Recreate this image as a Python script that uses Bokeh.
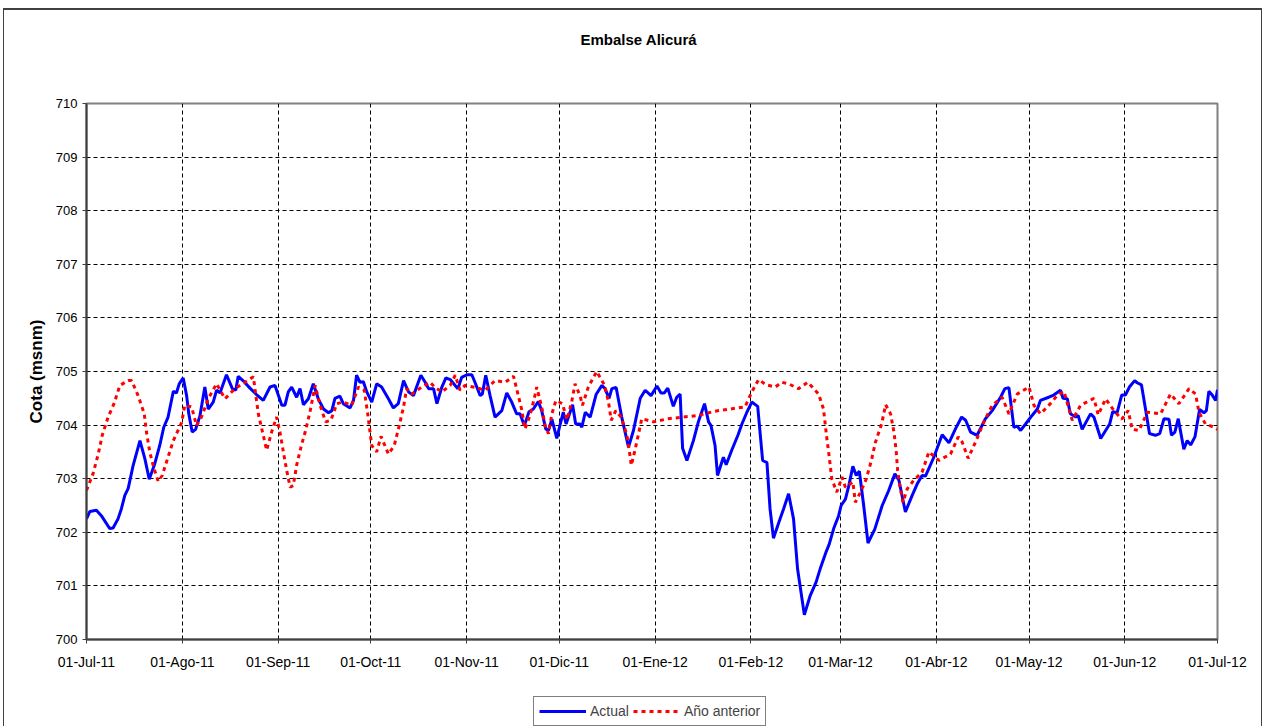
from bokeh.plotting import figure
from bokeh.models import Range1d, FixedTicker, Legend, LinearAxis
from bokeh.layouts import column
from bokeh.embed import file_html
from bokeh.resources import INLINE

# days since 01-Jul-11 for month starts
month_days = [0, 31, 62, 92, 123, 153, 184, 215, 244, 275, 305, 336, 366]
month_labels = ["01-Jul-11", "01-Ago-11", "01-Sep-11", "01-Oct-11", "01-Nov-11",
                "01-Dic-11", "01-Ene-12", "01-Feb-12", "01-Mar-12", "01-Abr-12",
                "01-May-12", "01-Jun-12", "01-Jul-12"]
y_ticks = [700, 701, 702, 703, 704, 705, 706, 707, 708, 709, 710]

# Serie "Actual" (día desde 01-Jul-11, cota msnm)
actual_day = [0, 1.1, 3.2, 4.8, 7.5, 8.6, 10.2, 11.3, 12.4, 13.5, 15.1, 17.3, 18.9, 20.3,
              22.1, 23.7, 25.0, 26.4, 28.1, 29.1, 30.0, 31.3, 32.4, 33.1, 34.2, 35.3, 36.7,
              38.3, 39.4, 41.0, 42.1, 43.2, 45.3, 47.2, 48.3, 49.1, 51.0, 52.9, 55.0, 57.2,
              59.4, 61.0, 63.2, 64.2, 65.3, 66.4, 68.0, 69.1, 70.2, 71.8, 73.4, 75.0, 76.7,
              78.3, 79.4, 80.4, 82.0, 83.1, 85.3, 86.4, 87.4, 88.5, 89.6, 90.7, 92.3, 93.9,
              95.5, 97.7, 99.3, 100.9, 102.6, 104.2, 105.8, 108.2, 109.6, 110.7, 112.3, 113.4,
              115.0, 116.3, 117.7, 119.3, 120.2, 121.4, 123.1, 124.7, 125.7, 127.4, 128.1,
              129.2, 130.6, 132.2, 134.4, 136.0, 137.6, 139.2, 140.3, 141.7, 143.2, 144.6,
              146.2, 147.3, 148.6, 149.5, 150.6, 152.2, 153.3, 154.3, 155.2, 157.3, 158.3,
              159.7, 160.3, 161.4, 163.0, 164.9, 166.8, 167.8, 169.1, 170.0, 171.4, 173.2,
              175.4, 177.0, 179.2, 180.8, 182.7, 184.6, 185.9, 187.0, 188.1, 189.9, 191.0,
              192.1, 192.9, 194.3, 196.4, 198.0, 200.0, 201.3, 202.1, 203.4, 204.2, 206.1,
              207.0, 208.8, 210.8, 212.1, 213.7, 215.3, 217.2, 218.8, 220.2, 221.2, 222.3,
              224.2, 225.6, 227.2, 228.8, 230.1, 232.3, 234.2, 236.1, 237.6, 239.3, 240.3,
              241.8, 243.4, 244.2, 245.6, 246.7, 248.0, 249.1, 250.1, 251.5, 252.9, 255.1,
              257.5, 259.6, 261.6, 262.9, 265.0, 267.2, 268.8, 270.4, 271.5, 274.2, 276.9,
              279.1, 281.2, 283.2, 284.5, 286.1, 288.2, 290.9, 293.1, 295.8, 297.2, 298.5,
              300.1, 301.2, 302.3, 303.9, 306.0, 307.7, 308.7, 311.4, 313.0, 315.2, 316.0,
              317.4, 318.4, 320.1, 320.9, 322.2, 324.9, 326.0, 328.2, 331.1, 332.1, 333.5,
              335.0, 336.2, 337.5, 339.2, 340.0, 341.4, 342.7, 344.0, 345.9, 347.3, 348.7,
              350.3, 351.1, 352.2, 353.3, 355.1, 356.2, 357.3, 358.7, 360.2, 361.6, 362.4,
              363.2, 364.3, 365.4, 366.0]
actual_cota = [702.25, 702.39, 702.41, 702.31, 702.07, 702.08, 702.25, 702.44, 702.69, 702.82,
               703.25, 703.71, 703.37, 702.99, 703.28, 703.62, 703.96, 704.15, 704.63, 704.60,
               704.77, 704.88, 704.55, 704.21, 703.87, 703.92, 704.17, 704.71, 704.30, 704.43,
               704.65, 704.60, 704.94, 704.68, 704.65, 704.91, 704.81, 704.69, 704.57, 704.46,
               704.71, 704.74, 704.37, 704.37, 704.62, 704.71, 704.52, 704.68, 704.38, 704.49,
               704.77, 704.49, 704.30, 704.23, 704.27, 704.50, 704.54, 704.40, 704.32, 704.46,
               704.93, 704.80, 704.81, 704.62, 704.43, 704.77, 704.71, 704.49, 704.32, 704.40,
               704.83, 704.62, 704.55, 704.93, 704.80, 704.68, 704.68, 704.40, 704.71, 704.88,
               704.85, 704.74, 704.68, 704.89, 704.94, 704.94, 704.80, 704.55, 704.58, 704.93,
               704.55, 704.15, 704.27, 704.60, 704.43, 704.21, 704.21, 703.99, 704.25, 704.30,
               704.44, 704.27, 703.93, 703.90, 704.11, 703.75, 704.02, 704.24, 704.02, 704.38,
               704.02, 704.02, 703.96, 704.24, 704.15, 704.57, 704.74, 704.68, 704.50, 704.68,
               704.70, 704.15, 703.59, 703.90, 704.50, 704.65, 704.55, 704.73, 704.60, 704.60,
               704.69, 704.35, 704.52, 704.58, 703.57, 703.34, 703.71, 704.06, 704.40, 704.06,
               703.99, 703.62, 703.06, 703.40, 703.26, 703.53, 703.81, 704.02, 704.24, 704.43,
               704.35, 703.34, 703.30, 702.44, 701.89, 702.21, 702.44, 702.72, 702.25, 701.32,
               700.46, 700.82, 701.07, 701.35, 701.63, 701.77, 702.07, 702.31, 702.50, 702.62,
               702.87, 703.23, 703.06, 703.14, 702.50, 701.80, 702.06, 702.50, 702.78, 703.09,
               702.97, 702.38, 702.69, 702.90, 703.06, 703.05, 703.40, 703.82, 703.67, 703.93,
               704.15, 704.09, 703.87, 703.81, 704.12, 704.27, 704.52, 704.68, 704.70, 703.96,
               703.98, 703.90, 704.02, 704.18, 704.30, 704.46, 704.52, 704.56, 704.65, 704.50,
               704.49, 704.21, 704.15, 704.18, 703.92, 704.21, 704.15, 703.75, 704.02, 704.25,
               704.23, 704.56, 704.56, 704.71, 704.83, 704.79, 704.75, 704.30, 703.84, 703.81,
               703.84, 704.12, 704.11, 703.81, 703.87, 704.12, 703.55, 703.71, 703.63, 703.78,
               704.29, 704.23, 704.27, 704.63, 704.56, 704.46, 704.66]

# Serie "Año anterior"
anterior_day = [0, 2.1, 3.8, 5.1, 7.0, 8.9, 10.8, 13.5, 14.6, 16.7, 18.7, 19.4, 20.5, 21.8,
                23.2, 24.5, 26.2, 28.1, 30.8, 31.8, 34.0, 35.6, 37.2, 39.4, 42.1, 44.8, 48.0,
                51.3, 54.0, 55.6, 57.2, 58.3, 59.9, 61.5, 62.6, 63.7, 64.8, 65.9, 66.9, 68.0,
                69.4, 70.9, 72.3, 74.0, 75.6, 77.4, 79.1, 81.0, 83.1, 85.8, 88.0, 89.9, 91.0,
                92.3, 93.9, 95.3, 97.7, 99.6, 101.2, 102.6, 103.6, 105.3, 108.5, 111.2, 112.6,
                115.0, 117.7, 119.3, 120.9, 122.5, 126.0, 129.0, 132.2, 135.5, 138.2, 140.8,
                141.9, 143.5, 145.0, 145.7, 147.3, 148.4, 149.5, 150.6, 151.9, 154.0, 155.5,
                157.0, 158.1, 159.7, 160.5, 162.4, 165.1, 167.6, 168.9, 169.8, 171.3, 173.0,
                174.9, 175.7, 176.3, 177.6, 179.7, 183.5, 188.3, 193.2, 198.0, 203.4, 208.3,
                213.1, 215.3, 217.5, 220.0, 222.9, 225.0, 227.2, 230.4, 233.4, 236.9, 238.5,
                239.6, 240.3, 241.2, 242.8, 244.5, 245.6, 248.0, 248.8, 250.5, 252.3, 254.0,
                255.3, 257.3, 258.6, 260.2, 261.3, 262.0, 262.5, 263.2, 264.2, 265.6, 267.7,
                270.4, 272.6, 275.8, 279.6, 282.1, 283.4, 285.3, 287.9, 290.4, 293.1, 296.3,
                298.5, 301.2, 305.0, 306.6, 308.7, 311.9, 314.1, 316.3, 319.0, 321.7, 326.0,
                327.4, 329.8, 332.5, 335.0, 337.1, 338.4, 340.6, 343.3, 347.6, 350.8, 353.5,
                356.8, 358.9, 360.0, 362.1, 364.9, 366.0]
anterior_cota = [702.78, 703.09, 703.46, 703.81, 704.15, 704.40, 704.74, 704.83, 704.83, 704.55,
                 704.21, 703.87, 703.49, 703.20, 702.95, 703.06, 703.37, 703.71, 704.05, 704.37,
                 704.34, 703.99, 704.15, 704.49, 704.77, 704.49, 704.68, 704.80, 704.90, 704.21,
                 703.81, 703.53, 703.87, 704.15, 703.87, 703.50, 703.15, 702.84, 702.87, 703.25,
                 703.59, 703.90, 704.24, 704.74, 704.37, 704.06, 704.09, 704.40, 704.43, 704.37,
                 704.71, 704.65, 704.21, 703.62, 703.50, 703.79, 703.46, 703.62, 703.99, 704.34,
                 704.68, 704.58, 704.71, 704.80, 704.71, 704.62, 704.74, 704.93, 704.65, 704.74,
                 704.70, 704.65, 704.83, 704.80, 704.91, 704.30, 703.93, 704.18, 704.52, 704.71,
                 704.34, 703.99, 703.84, 704.21, 704.46, 704.40, 704.10, 704.43, 704.77, 704.55,
                 704.37, 704.71, 705.00, 704.75, 704.44, 704.09, 704.27, 704.15, 703.81, 703.50,
                 703.25, 703.56, 704.12, 704.06, 704.12, 704.15, 704.18, 704.26, 704.30, 704.34,
                 704.62, 704.85, 704.75, 704.71, 704.80, 704.77, 704.68, 704.80, 704.58, 704.30,
                 703.74, 703.43, 702.99, 702.75, 703.03, 702.84, 702.94, 702.56, 702.75, 702.99,
                 703.34, 703.68, 704.02, 704.38, 704.21, 703.87, 703.53, 703.15, 702.87, 702.56,
                 702.81, 702.97, 703.12, 703.50, 703.34, 703.46, 703.78, 703.68, 703.38, 703.71,
                 704.06, 704.37, 704.52, 704.21, 704.58, 704.71, 704.37, 704.21, 704.40, 704.55,
                 704.63, 704.09, 704.37, 704.50, 704.19, 704.49, 704.27, 704.11, 704.27, 703.92,
                 703.90, 704.24, 704.21, 704.58, 704.40, 704.68, 704.58, 704.24, 704.02, 703.96,
                 703.92]

series_names = ["Actual", "Año anterior"]

FONT = "Liberation Sans"
BLUE = "#0000FF"
RED = "#FF0000"
RED_DASH = "4 4"

p = figure(width=1259, height=679, output_backend="svg", toolbar_location=None,
           x_range=Range1d(0, 366), y_range=Range1d(700, 710),
           min_border_left=82, min_border_right=46, min_border_top=93, min_border_bottom=50,
           background_fill_color="white", border_fill_color="white")
p.styles = {"border-top": "2px solid #404040", "border-left": "1px solid #404040",
            "border-right": "1px solid #404040"}

xax = p.below[0]
yax = p.left[0]

# invisible axis that only reserves space between the title and the plot frame
spacer = LinearAxis(ticker=FixedTicker(ticks=[month_days[0]]), axis_line_color=None,
                    major_tick_line_color=None, minor_tick_line_color=None,
                    major_tick_in=0, major_tick_out=51, minor_tick_out=0,
                    major_label_standoff=0, major_label_text_font_size="1px",
                    major_label_text_alpha=0,
                    major_label_overrides={month_days[0]: " "})
p.add_layout(spacer, "above")

p.title.text = "Embalse Alicurá"
p.title.align = "left"
p.title.offset = 494
p.title.standoff = 10
p.title.text_font = FONT
p.title.text_font_size = "15px"
p.title.text_font_style = "bold"
p.title.text_color = "black"

p.outline_line_color = "#808080"
p.outline_line_width = 2

xt = FixedTicker(ticks=month_days)
xax.ticker = xt
p.xgrid.ticker = xt
xax.major_label_overrides = {d: lab for d, lab in zip(month_days, month_labels)}
yt = FixedTicker(ticks=y_ticks)
yax.ticker = yt
p.ygrid.ticker = yt

for ax in (xax, yax):
    ax.axis_line_color = "#404040"
    ax.axis_line_width = 2
    ax.major_tick_line_color = "#404040"
    ax.major_tick_in = 0
    ax.major_tick_out = 4
    ax.minor_tick_line_color = None
    ax.major_label_text_font = FONT
    ax.major_label_text_color = "black"

xax.major_label_text_font_size = "14px"
yax.major_label_text_font_size = "13px"
xax.major_label_standoff = 10
yax.major_label_standoff = 5
yax.axis_label = "Cota (msnm)"
yax.axis_label_text_font = FONT
yax.axis_label_text_font_size = "17px"
yax.axis_label_text_font_style = "bold"
yax.axis_label_text_color = "black"
yax.axis_label_standoff = 7

p.grid.grid_line_color = "black"
p.grid.grid_line_dash = "4 3"
p.grid.grid_line_width = 1

p.line(actual_day, actual_cota, line_color=BLUE, line_width=3)
p.line(anterior_day, anterior_cota, line_color=RED, line_width=3, line_dash=RED_DASH)

# Legend strip below the chart; its series lie outside its (0..1) y range, so only the legend shows
pl = figure(width=1259, height=39, output_backend="svg", toolbar_location=None,
            x_axis_type=None, y_axis_type=None, x_range=Range1d(0, 366), y_range=Range1d(0, 1),
            min_border=0, background_fill_color="white", border_fill_color="white")
pl.styles = {"border-left": "1px solid #404040", "border-right": "1px solid #404040"}
pl.outline_line_color = None
pl.grid.visible = False
lr1 = pl.line(actual_day, actual_cota, line_color=BLUE, line_width=3)
lr2 = pl.line(anterior_day, anterior_cota, line_color=RED, line_width=3, line_dash=RED_DASH)

legend = Legend(items=[(series_names[0], [lr1]), (series_names[1], [lr2])],
                location=(447, 0), orientation="horizontal",
                border_line_color="black", border_line_width=1,
                background_fill_color="white", background_fill_alpha=1,
                label_text_font=FONT, label_text_font_size="14px",
                glyph_width=47, glyph_height=18, label_height=18, label_standoff=4,
                spacing=4, padding=5, margin=0)
pl.add_layout(legend, "center")

layout = column(p, pl, spacing=0, styles={"margin-left": "3px", "margin-top": "8px"})

open("out.html", "w").write(file_html(layout, INLINE))
